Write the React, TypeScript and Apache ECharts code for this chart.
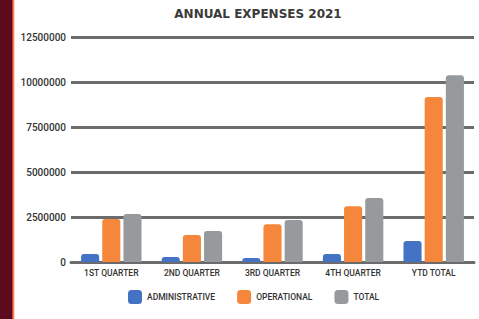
import React, { useEffect, useRef } from "react";
import * as echarts from "echarts";

const categories = ["1ST QUARTER", "2ND QUARTER", "3RD QUARTER", "4TH QUARTER", "YTD TOTAL"];
const administrative = [450000, 280000, 220000, 450000, 1170000];
const operational = [2390000, 1500000, 2100000, 3100000, 9170000];
const total = [2670000, 1720000, 2330000, 3550000, 10380000];
const yTicks = [0, 2500000, 5000000, 7500000, 10000000, 12500000];

export default function App() {
  const ref = useRef<HTMLDivElement>(null);
  useEffect(() => {
    if (!ref.current) return;
    const chart = echarts.init(ref.current, null, { renderer: "svg" });
    const font = "Roboto, 'Liberation Sans', Arial, sans-serif";
    const mk = (name: string, data: number[], color: string) => ({
      name,
      type: "bar",
      data,
      barGap: "17%",
      barCategoryGap: "25%",
      itemStyle: { color, borderRadius: [3, 3, 0, 0] },
    });
    chart.setOption({
      animation: false,
      backgroundColor: "#ffffff",
      title: {
        text: "ANNUAL EXPENSES 2021",
        left: 253,
        top: 3,
        textAlign: "center",
        textStyle: { fontFamily: "'DejaVu Sans', sans-serif", fontSize: 12, fontWeight: "bold", color: "#3a3a3a" },
      },
      graphic: [
        { type: "rect", shape: { x: 0, y: 0, width: 12, height: 319 }, style: { fill: "#5e0a1e" } },
        { type: "rect", shape: { x: 12, y: 0, width: 1, height: 319 }, style: { fill: "#c8402a" } },
        { type: "rect", shape: { x: 13, y: 0, width: 1, height: 319 }, style: { fill: "#f08a5e" } },
        { type: "rect", shape: { x: 14, y: 0, width: 1, height: 319 }, style: { fill: "#fbd3c2" } },
      ],
      legend: {
        left: 123,
        top: 285,
        itemWidth: 14,
        itemHeight: 14,
        itemGap: 22,
        icon: "roundRect",
        textStyle: { fontFamily: font, fontSize: 8.5, fontWeight: 500, color: "#333" },
        data: ["ADMINISTRATIVE", "OPERATIONAL", "TOTAL"],
      },
      grid: { left: 71, right: 5, top: 37, bottom: 57 },
      xAxis: {
        type: "category",
        data: categories,
        axisLine: { lineStyle: { color: "#6b6b6b", width: 3 } },
        axisTick: { show: false },
        axisLabel: { fontFamily: font, fontSize: 8.5, fontWeight: 500, color: "#333", margin: 6 },
      },
      yAxis: {
        type: "value",
        min: yTicks[0],
        max: yTicks[yTicks.length - 1],
        interval: 2500000,
        axisLine: { show: false },
        axisTick: { show: false },
        axisLabel: {
          fontFamily: font,
          fontSize: 10,
          fontWeight: 500,
          color: "#333",
          margin: 5,
          formatter: (v: number) => String(v),
        },
        splitLine: { lineStyle: { color: "#6b6b6b", width: 3 } },
      },
      series: [
        mk("ADMINISTRATIVE", administrative, "#4472c4"),
        mk("OPERATIONAL", operational, "#f4873b"),
        mk("TOTAL", total, "#979a9c"),
      ],
    });
    return () => chart.dispose();
  }, []);
  return (
    <div
      ref={ref}
      style={{ position: "fixed", left: 0, top: 0, width: 479, height: 319 }}
    />
  );
}
